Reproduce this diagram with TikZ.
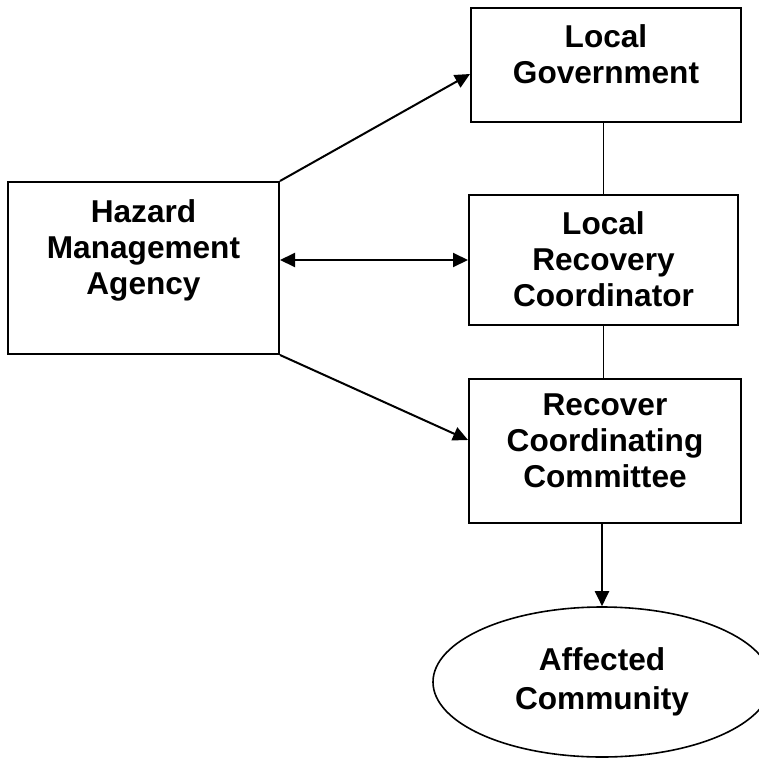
\documentclass[tikz,border=0pt]{standalone}
\usepackage{fontspec}
\setmainfont{Liberation Sans}
\usetikzlibrary{arrows.meta,shapes.geometric}
\tikzset{
  box/.style={draw, line width=2pt, inner sep=0pt},
  lbl/.style={anchor=north, inner sep=0pt, align=center,
    font=\fontsize{31.6}{36}\selectfont\bfseries},
  conn/.style={line width=2pt, -{Triangle[length=15pt,width=14pt]}},
  dconn/.style={line width=2pt, {Triangle[length=15pt,width=14pt]}-{Triangle[length=15pt,width=14pt]}},
  plain/.style={line width=1.6pt}
}
\begin{document}
\begin{tikzpicture}[x=1pt,y=-1pt]
\useasboundingbox (0,0) rectangle (758,759);
% boxes
\node[box, minimum width=270pt, minimum height=114pt] (lg) at (606,65) {};
\node[box, minimum width=271pt, minimum height=172pt] (hma) at (143.5,268) {};
\node[box, minimum width=269pt, minimum height=130pt] (lrc) at (603.5,260) {};
\node[box, minimum width=272pt, minimum height=144pt] (rcc) at (605,451) {};
\node[draw, ellipse, line width=1.6pt, inner sep=0pt, minimum width=338pt, minimum height=150pt,
  align=center, font=\fontsize{31.6}{39}\selectfont\bfseries] (ell) at (602,682) {Affected\\Community};
% labels
\node[lbl] (lgt) at ([yshift=-17pt]lg.north) {Local\\Government};
\node[lbl] (hmat) at ([yshift=-18pt]hma.north) {Hazard\\Management\\Agency};
\node[lbl] (lrct) at ([yshift=-17pt]lrc.north) {Local\\Recovery\\Coordinator};
\node[lbl] (rcct) at ([yshift=-16pt]rcc.north) {Recover\\Coordinating\\Committee};
% connectors
\draw[plain] (lg.south -| lrc.north) -- (lrc.north);
\draw[plain] (lrc.south) -- (rcc.north -| lrc.south);
\draw[conn] (rcc.south -| ell.north) -- (ell.north);
\draw[conn] (hma.north east) -- ([yshift=-9pt]lg.west);
\draw[dconn] (hma.east |- lrc.west) -- (lrc.west);
\draw[conn] (hma.south east) -- ([yshift=11pt]rcc.west);
\end{tikzpicture}
\end{document}
